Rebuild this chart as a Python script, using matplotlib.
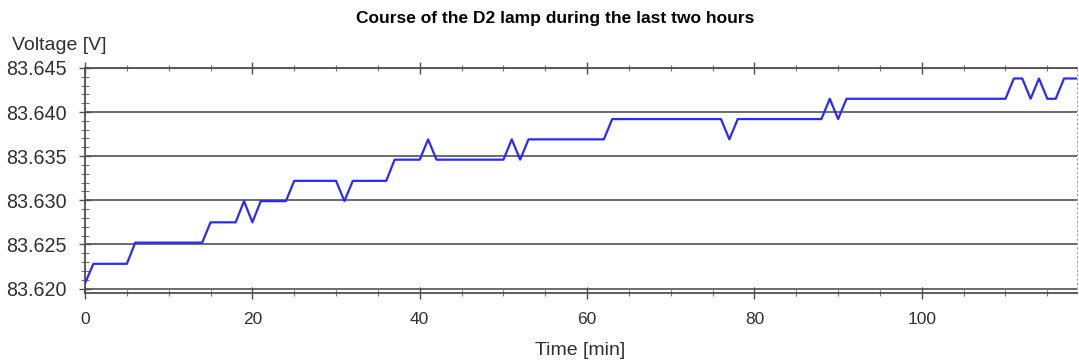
#!/usr/bin/env python3
"""D2 lamp voltage over the last two hours."""
import numpy as np
import matplotlib.pyplot as plt
from matplotlib.ticker import MultipleLocator, FormatStrFormatter

# Breakpoints of the logged lamp voltage (minutes, volts)
time_min = [0, 1, 5, 6, 14, 15, 18, 19, 20, 21, 24, 25, 30, 31, 32, 36, 37,
            40, 41, 42, 50, 51, 52, 53, 62, 63, 76, 77, 78, 88, 89, 90, 91,
            110, 111, 112, 113, 114, 115, 116, 117, 118.5]
voltage = [83.6206, 83.6228, 83.6228, 83.6252, 83.6252, 83.6275, 83.6275,
           83.6299, 83.6275, 83.6299, 83.6299, 83.6322, 83.6322, 83.6299,
           83.6322, 83.6322, 83.6346, 83.6346, 83.6369, 83.6346, 83.6346,
           83.6369, 83.6346, 83.6369, 83.6369, 83.6392, 83.6392, 83.6369,
           83.6392, 83.6392, 83.6415, 83.6392, 83.6415, 83.6415, 83.6438,
           83.6438, 83.6415, 83.6438, 83.6415, 83.6415, 83.6438, 83.6438]
y_ticks = [83.620, 83.625, 83.630, 83.635, 83.640, 83.645]
x_ticks = [0, 20, 40, 60, 80, 100]

plt.rcParams["font.family"] = ["Liberation Sans", "DejaVu Sans"]

fig = plt.figure(figsize=(10.79, 3.63), dpi=100)
ax = fig.add_axes([0.0788, 0.193, 0.919, 0.62])

for v in y_ticks:
    ax.axhline(v, color="#606060", linewidth=1.3, zorder=1)
ax.plot(time_min, voltage, color="#2a2aff", linewidth=1.6, zorder=3)

ax.set_xlim(0, 118.5)
ax.set_ylim(83.6195, 83.645)
ax.set_xticks(x_ticks)
ax.set_yticks(y_ticks)
ax.xaxis.set_minor_locator(MultipleLocator(5))
ax.yaxis.set_minor_locator(MultipleLocator(0.001))
ax.yaxis.set_major_formatter(FormatStrFormatter("%.3f"))

ax.tick_params(axis="x", which="major", direction="inout", length=9, width=1,
               color="#505050", labelsize=12.5, pad=9, top=True,
               labelcolor="#303030")
ax.tick_params(axis="x", which="minor", direction="inout", length=5, width=0.8,
               color="#707070", top=True)
ax.tick_params(axis="y", which="major", direction="inout", length=9, width=1,
               color="#505050", labelsize=14.2, pad=9, labelcolor="#303030")
ax.tick_params(axis="y", which="minor", direction="inout", length=6, width=0.8,
               color="#707070")

for side in ("left", "top", "bottom"):
    ax.spines[side].set_color("#505050")
    ax.spines[side].set_linewidth(1.3)
ax.spines["right"].set_color("#a0a0a0")
ax.spines["right"].set_linestyle((0, (1, 3)))

fig.text(0.011, 0.876, "Voltage [V]", fontsize=14, ha="left", va="center",
         color="#303030")
fig.text(0.538, 0.035, "Time [min]", fontsize=14, ha="center", va="center",
         color="#303030")
fig.text(0.5145, 0.948, "Course of the D2 lamp during the last two hours",
         fontsize=12.5, fontweight="bold", ha="center", va="center")

fig.savefig("out.png", dpi=100)
